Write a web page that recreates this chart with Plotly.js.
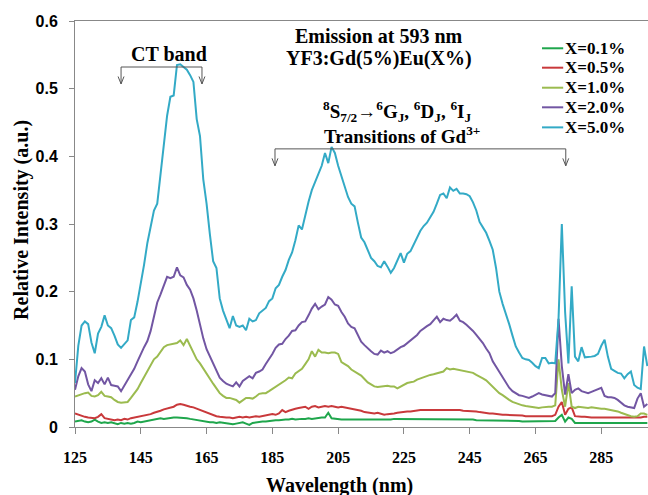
<!DOCTYPE html>
<html>
<head>
<meta charset="utf-8">
<script src="https://cdn.plot.ly/plotly-3.0.1.min.js"></script>
<style>html,body{margin:0;padding:0;background:#fff;}#chart{width:648px;height:495px;}</style>
</head>
<body>
<div id="chart"></div>
<script>
var wavelength = [125,126,127,128,129,130,131,132,133,134,135,136,137,138,139,140,141,142,143,144,145,146,147,148,149,150,151,152,153,154,155,156,157,158,159,160,161,162,163,164,165,166,167,168,169,170,171,172,173,174,175,176,177,178,179,180,181,182,183,184,185,186,187,188,189,190,191,192,193,194,195,196,197,198,199,200,201,202,203,204,205,206,207,208,209,210,211,212,213,214,215,216,217,218,219,220,221,222,223,224,225,226,227,228,229,230,231,232,233,234,235,236,237,238,239,240,241,242,243,244,245,246,247,248,249,250,251,252,253,254,255,256,257,258,259,260,261,262,263,264,265,266,267,268,269,270,271,272,273,274,275,276,277,278,279,280,281,282,283,284,285,286,287,288,289,290,291,292,293,294,295,296,297,298,299];

var euX01 = [0.008,0.009,0.010,0.008,0.007,0.008,0.011,0.008,0.006,0.007,0.006,0.007,0.005,0.004,0.006,0.005,0.006,0.005,0.006,0.008,0.007,0.008,0.009,0.009,0.010,0.012,0.013,0.012,0.013,0.013,0.014,0.014,0.014,0.013,0.013,0.012,0.011,0.010,0.009,0.008,0.008,0.007,0.007,0.006,0.007,0.006,0.006,0.005,0.004,0.005,0.006,0.007,0.005,0.003,0.006,0.007,0.007,0.008,0.008,0.009,0.009,0.010,0.010,0.011,0.011,0.011,0.012,0.011,0.012,0.012,0.012,0.013,0.012,0.013,0.013,0.014,0.014,0.021,0.013,0.012,0.012,0.011,0.011,0.011,0.011,0.011,0.011,0.010,0.010,0.010,0.010,0.011,0.010,0.011,0.011,0.011,0.011,0.012,0.012,0.012,0.011,0.012,0.012,0.012,0.012,0.011,0.011,0.011,0.011,0.011,0.011,0.012,0.011,0.011,0.011,0.011,0.011,0.011,0.012,0.011,0.011,0.011,0.010,0.010,0.010,0.010,0.010,0.010,0.010,0.010,0.009,0.009,0.009,0.009,0.009,0.009,0.008,0.008,0.008,0.008,0.008,0.008,0.008,0.008,0.008,0.008,0.009,0.014,0.018,0.008,0.014,0.012,0.006,0.006,0.006,0.005,0.005,0.005,0.006,0.005,0.005,0.005,0.006,0.005,0.005,0.005,0.005,0.006,0.005,0.006,0.006,0.005,0.006,0.006,0.006];

var euX05 = [0.020,0.018,0.017,0.015,0.014,0.014,0.013,0.015,0.019,0.013,0.012,0.011,0.010,0.011,0.010,0.012,0.011,0.013,0.014,0.014,0.016,0.017,0.018,0.019,0.021,0.022,0.024,0.026,0.027,0.028,0.030,0.033,0.034,0.033,0.031,0.030,0.029,0.027,0.025,0.023,0.021,0.019,0.017,0.016,0.015,0.014,0.014,0.014,0.013,0.014,0.015,0.014,0.015,0.014,0.015,0.016,0.015,0.016,0.016,0.018,0.019,0.018,0.020,0.025,0.022,0.024,0.026,0.027,0.028,0.029,0.030,0.027,0.030,0.031,0.029,0.030,0.031,0.030,0.031,0.030,0.029,0.030,0.029,0.029,0.028,0.027,0.026,0.024,0.022,0.021,0.020,0.020,0.021,0.019,0.018,0.019,0.019,0.020,0.021,0.022,0.022,0.023,0.023,0.024,0.024,0.025,0.025,0.025,0.025,0.025,0.026,0.025,0.025,0.026,0.025,0.025,0.025,0.025,0.024,0.024,0.024,0.023,0.023,0.022,0.021,0.021,0.020,0.020,0.019,0.019,0.018,0.018,0.018,0.017,0.017,0.017,0.017,0.016,0.016,0.016,0.016,0.016,0.016,0.016,0.016,0.016,0.018,0.030,0.037,0.018,0.027,0.029,0.016,0.015,0.015,0.015,0.014,0.014,0.014,0.014,0.014,0.014,0.013,0.013,0.013,0.013,0.013,0.013,0.013,0.013,0.013,0.014,0.014,0.015,0.015];

var euX10 = [0.045,0.047,0.048,0.050,0.051,0.046,0.045,0.047,0.052,0.046,0.045,0.044,0.040,0.037,0.036,0.036,0.037,0.043,0.049,0.056,0.065,0.074,0.083,0.092,0.100,0.104,0.112,0.118,0.121,0.122,0.124,0.124,0.128,0.121,0.130,0.120,0.110,0.100,0.094,0.086,0.078,0.070,0.064,0.057,0.050,0.046,0.043,0.043,0.041,0.040,0.036,0.040,0.043,0.043,0.042,0.045,0.049,0.050,0.050,0.053,0.056,0.060,0.063,0.066,0.069,0.073,0.072,0.079,0.082,0.086,0.093,0.100,0.112,0.104,0.114,0.110,0.110,0.109,0.110,0.110,0.108,0.096,0.093,0.090,0.085,0.082,0.080,0.076,0.071,0.066,0.063,0.060,0.059,0.060,0.060,0.061,0.060,0.060,0.057,0.060,0.062,0.065,0.066,0.067,0.070,0.072,0.074,0.076,0.077,0.078,0.079,0.080,0.082,0.087,0.085,0.086,0.085,0.085,0.084,0.082,0.082,0.080,0.077,0.075,0.072,0.069,0.064,0.060,0.055,0.050,0.047,0.043,0.040,0.037,0.035,0.033,0.032,0.031,0.030,0.030,0.029,0.028,0.029,0.030,0.030,0.030,0.032,0.100,0.055,0.030,0.065,0.030,0.028,0.030,0.029,0.028,0.028,0.029,0.028,0.028,0.027,0.027,0.026,0.025,0.025,0.023,0.021,0.019,0.017,0.016,0.015,0.016,0.020,0.020,0.018];

var euX20 = [0.055,0.075,0.087,0.082,0.063,0.053,0.069,0.065,0.072,0.063,0.073,0.062,0.061,0.060,0.053,0.061,0.068,0.076,0.086,0.097,0.108,0.118,0.127,0.142,0.163,0.184,0.196,0.210,0.222,0.220,0.222,0.236,0.224,0.221,0.210,0.203,0.190,0.172,0.150,0.131,0.115,0.104,0.093,0.084,0.073,0.068,0.064,0.062,0.060,0.066,0.060,0.068,0.072,0.075,0.072,0.080,0.082,0.085,0.093,0.100,0.108,0.117,0.122,0.123,0.130,0.135,0.142,0.143,0.150,0.155,0.156,0.165,0.175,0.182,0.174,0.178,0.181,0.192,0.188,0.181,0.179,0.170,0.163,0.153,0.148,0.146,0.135,0.126,0.121,0.116,0.112,0.108,0.107,0.113,0.110,0.112,0.109,0.111,0.115,0.118,0.120,0.124,0.128,0.132,0.136,0.142,0.146,0.149,0.152,0.158,0.163,0.155,0.160,0.158,0.157,0.161,0.166,0.157,0.155,0.151,0.147,0.142,0.136,0.130,0.124,0.116,0.109,0.097,0.089,0.082,0.072,0.064,0.058,0.053,0.050,0.047,0.046,0.045,0.043,0.045,0.047,0.050,0.048,0.047,0.046,0.045,0.050,0.160,0.090,0.048,0.078,0.050,0.055,0.057,0.053,0.052,0.050,0.052,0.054,0.056,0.058,0.046,0.044,0.044,0.043,0.040,0.036,0.032,0.030,0.029,0.028,0.042,0.050,0.030,0.034];

var euX50 = [0.065,0.120,0.150,0.156,0.152,0.125,0.109,0.138,0.148,0.165,0.150,0.146,0.135,0.122,0.117,0.123,0.128,0.158,0.162,0.185,0.210,0.240,0.272,0.298,0.320,0.330,0.375,0.420,0.460,0.488,0.490,0.535,0.536,0.532,0.528,0.520,0.510,0.455,0.430,0.366,0.330,0.285,0.245,0.235,0.190,0.172,0.160,0.146,0.164,0.150,0.148,0.150,0.143,0.160,0.156,0.158,0.168,0.172,0.176,0.186,0.190,0.205,0.210,0.222,0.232,0.247,0.258,0.276,0.298,0.292,0.315,0.333,0.350,0.362,0.376,0.386,0.405,0.390,0.414,0.405,0.386,0.370,0.355,0.340,0.330,0.326,0.302,0.280,0.273,0.260,0.250,0.245,0.238,0.236,0.245,0.237,0.228,0.235,0.245,0.257,0.243,0.256,0.260,0.270,0.278,0.290,0.297,0.302,0.310,0.318,0.330,0.343,0.345,0.338,0.354,0.349,0.352,0.345,0.345,0.344,0.341,0.332,0.320,0.303,0.295,0.287,0.275,0.262,0.235,0.200,0.182,0.168,0.152,0.135,0.119,0.110,0.102,0.100,0.099,0.095,0.090,0.087,0.102,0.102,0.094,0.095,0.094,0.160,0.300,0.170,0.094,0.208,0.104,0.097,0.118,0.103,0.103,0.104,0.105,0.108,0.120,0.129,0.104,0.086,0.083,0.080,0.079,0.072,0.078,0.082,0.062,0.058,0.056,0.119,0.090];

var seriesNames = ['X=0.1%','X=0.5%','X=1.0%','X=2.0%','X=5.0%'];
var seriesData = [euX01, euX05, euX10, euX20, euX50];
var seriesColors = ['#1fa64c','#c9393b','#9bbb4f','#7256a3','#33aac6'];

var xTicks = [125,145,165,185,205,225,245,265,285];
var yTicks = [0,0.1,0.2,0.3,0.4,0.5,0.6];

var serif = 'Liberation Serif, Times New Roman, serif';
var sans = 'Liberation Sans, Arial, sans-serif';

var traces = seriesData.map(function(d, i){
  return {x: wavelength, y: d, type: 'scatter', mode: 'lines', name: seriesNames[i],
          line: {color: seriesColors[i], width: 2}, showlegend: false};
});

var bracketColor = '#555555';
function bracket(x0, x1, yTop, yTip, dx, dy){
  var s = [];
  s.push({type:'path', xref:'x', yref:'y', line:{color:bracketColor,width:1},
    path:'M'+x0+','+yTip+' L'+x0+','+yTop+' L'+x1+','+yTop+' L'+x1+','+yTip});
  [x0,x1].forEach(function(x){
    s.push({type:'path', xref:'x', yref:'y', line:{color:bracketColor,width:1},
      path:'M'+(x-dx)+','+(yTip+dy)+' L'+x+','+yTip+' L'+(x+dx)+','+(yTip+dy)});
  });
  return s;
}
var shapes = [].concat(bracket(139, 163.6, 0.532, 0.507, 0.9, 0.011),
                       bracket(185.8, 274.2, 0.411, 0.386, 0.9, 0.011));

var annFont = {family: serif, size: 20, color: '#000', weight: 'bold'};
var annFont2 = {family: serif, size: 19, color: '#000', weight: 'bold'};
var annotations = [
  {text:'CT band', x:153.6, y:0.551, xref:'x', yref:'y', showarrow:false, font:annFont},
  {text:'Emission at 593 nm', x:217.4, y:0.578, xref:'x', yref:'y', showarrow:false, font:annFont},
  {text:'YF3:Gd(5%)Eu(X%)', x:217.4, y:0.544, xref:'x', yref:'y', showarrow:false, font:annFont},
  {text:'<sup>8</sup>S<sub>7/2</sub>\u2192<sup>6</sup>G<sub>J</sub>, <sup>6</sup>D<sub>J</sub>, <sup>6</sup>I<sub>J</sub>', x:222.9, y:0.467, xref:'x', yref:'y', showarrow:false, font:annFont2},
  {text:'Transitions of Gd<sup>3+</sup>', x:224.4, y:0.431, xref:'x', yref:'y', showarrow:false, font:annFont2},
  // axis titles
  {text:'Wavelength (nm)', xref:'paper', yref:'paper', x:0.461, y:-0.145, xanchor:'center', yanchor:'middle',
   showarrow:false, font:annFont},
  {text:'Relative Intensity (a.u.)', xref:'paper', yref:'paper', x:-0.0925, y:0.51, xanchor:'center', yanchor:'middle',
   textangle:-90, showarrow:false, font:annFont}
];

// custom legend (paper coordinates)
var legendRows = [0.9328, 0.885, 0.8357, 0.7874, 0.738];
seriesNames.forEach(function(name, i){
  shapes.push({type:'line', xref:'paper', yref:'paper', x0:0.815, x1:0.852,
               y0:legendRows[i], y1:legendRows[i], line:{color:seriesColors[i], width:2}});
  annotations.push({text:name, xref:'paper', yref:'paper', x:0.852, y:legendRows[i],
                    xanchor:'left', yanchor:'middle', showarrow:false,
                    font:{family: serif, size:17, color:'#000', weight:'bold'}});
});

var layout = {
  width: 648, height: 495,
  margin: {l:75, r:0, t:21, b:68},
  paper_bgcolor: '#fff', plot_bgcolor: '#fff',
  showlegend: false,
  xaxis: {range:[125, 299.2], tickvals: xTicks, ticks:'outside', ticklen:6, tickcolor:'#888',
          showline:true, linecolor:'#888', linewidth:1, mirror:true, showgrid:false, zeroline:false,
          tickfont:{family: serif, size:16, color:'#000', weight:'bold'}, ticklabelstandoff:10},
  yaxis: {range:[0, 0.6], tickvals: yTicks, ticks:'outside', ticklen:5, tickcolor:'#888',
          showline:true, linecolor:'#888', linewidth:1, showgrid:false, zeroline:false,
          tickfont:{family: sans, size:16, color:'#000', weight:'bold'}, ticklabelstandoff:8},
  shapes: shapes,
  annotations: annotations
};

Plotly.newPlot('chart', traces, layout, {displayModeBar:false, staticPlot:true});
</script>
</body>
</html>
